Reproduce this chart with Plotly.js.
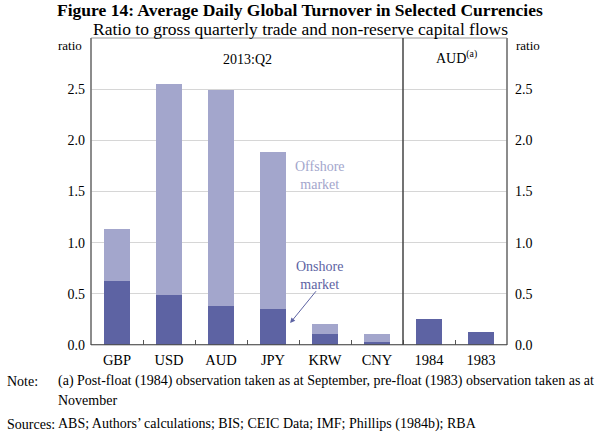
<!DOCTYPE html>
<html><head><meta charset="utf-8">
<script src="https://cdn.plot.ly/plotly-3.0.1.min.js"></script>
<style>body{margin:0;background:#fff}#c{width:600px;height:435px}</style>
</head><body><div id="c"></div>
<script>
var categories = ['GBP','USD','AUD','JPY','KRW','CNY','1984','1983'];
var onshore = [0.625, 0.49, 0.385, 0.35, 0.105, 0.027, 0.25, 0.124];
var offshore = [0.51, 2.06, 2.11, 1.54, 0.105, 0.078, null, null];
var yTicks = [0, 0.5, 1.0, 1.5, 2.0, 2.5];
var yTickText = ['0.0','0.5','1.0','1.5','2.0','2.5'];

var dark = '#5d63a3', light = '#a3a6cc';
var serif = 'Liberation Serif, Times New Roman, serif';

var traces = [
  {type:'bar', x:categories, y:onshore, marker:{color:dark}, width:0.5, name:'Onshore', hoverinfo:'y'},
  {type:'bar', x:categories, y:offshore, marker:{color:light}, width:0.5, name:'Offshore', hoverinfo:'y'},
  {type:'scatter', x:categories, y:onshore, yaxis:'y2', mode:'none', showlegend:false, hoverinfo:'skip'}
];

var fx = function(px){ return (px - 91) / 416; };

var layout = {
  width:600, height:435,
  margin:{l:91, r:93, t:38, b:90},
  barmode:'stack',
  showlegend:false,
  paper_bgcolor:'#fff', plot_bgcolor:'#fff',
  font:{family:serif, size:14, color:'#000'},
  xaxis:{type:'category', range:[-0.5,7.5], tickson:'boundaries', ticks:'inside', ticklen:5, tickcolor:'#555',
         showgrid:false, showline:false, tickfont:{size:14.5}, ticklabelstandoff:4},
  yaxis:{range:[0,3], tickvals:yTicks, ticktext:yTickText, showgrid:true, gridcolor:'#d6d6d6', gridwidth:1,
         zeroline:false, showline:false, ticks:'', tickfont:{size:14}, ticklabelstandoff:5},
  yaxis2:{range:[0,3], overlaying:'y', side:'right', tickvals:yTicks, ticktext:yTickText, showgrid:false,
          zeroline:false, showline:false, ticks:'', tickfont:{size:14}, ticklabelstandoff:7},
  shapes:[
    {type:'rect', xref:'paper', yref:'paper', x0:0, x1:1, y0:0, y1:1, line:{color:'#999', width:1}},
    {type:'line', xref:'paper', yref:'paper', x0:0, x1:0, y0:0, y1:1, line:{color:'#777', width:1.5}},
    {type:'line', xref:'paper', yref:'paper', x0:1, x1:1, y0:0, y1:1, line:{color:'#777', width:1.5}},
    {type:'line', xref:'x', yref:'paper', x0:5.5, x1:5.5, y0:0, y1:1, line:{color:'#444', width:1.5}},
    {type:'line', xref:'paper', yref:'y', x0:0, x1:1, y0:0, y1:0, line:{color:'#444', width:1.5}}
  ],
  annotations:[
    {text:'<b>Figure 14: Average Daily Global Turnover in Selected Currencies</b>', xref:'paper', yref:'paper',
     x:fx(300), y:1, yshift:28, showarrow:false, xanchor:'center', yanchor:'middle', font:{size:17.5}},
    {text:'Ratio to gross quarterly trade and non-reserve capital flows', xref:'paper', yref:'paper',
     x:fx(300), y:1, yshift:9, showarrow:false, xanchor:'center', yanchor:'middle', font:{size:17.5}},
    {text:'ratio', xref:'paper', yref:'paper', x:0, xshift:-7, y:1, yshift:-7, showarrow:false, xanchor:'right', yanchor:'middle', font:{size:13}},
    {text:'ratio', xref:'paper', yref:'paper', x:1, xshift:7, y:1, yshift:-7, showarrow:false, xanchor:'left', yanchor:'middle', font:{size:13}},
    {text:'2013:Q2', xref:'x', yref:'paper', x:2.5, y:1, yshift:-21, showarrow:false, xanchor:'center', yanchor:'middle', font:{size:14}},
    {text:'AUD<sup>(a)</sup>', xref:'x', yref:'paper', x:6.52, y:1, yshift:-19, showarrow:false, xanchor:'center', yanchor:'middle', font:{size:14}},
    {text:'Offshore<br>market', xref:'x', yref:'y', x:3.9, y:1.66, showarrow:false, xanchor:'center', yanchor:'middle', font:{size:14, color:light}},
    {text:'Onshore<br>market', xref:'x', yref:'y', x:3.9, y:0.68, showarrow:false, xanchor:'center', yanchor:'middle', font:{size:14, color:dark}},
    {text:'', xref:'x', yref:'y', x:3.33, y:0.215, ax:3.85, ay:0.54, axref:'x', ayref:'y', showarrow:true,
     arrowhead:2, arrowsize:1, arrowwidth:1, arrowcolor:dark},
    {text:'Note:', xref:'paper', yref:'paper', x:fx(5), xanchor:'left', y:0, yshift:-36, showarrow:false, yanchor:'middle', font:{size:14}},
    {text:'(a) Post-float (1984) observation taken as at September, pre-float (1983) observation taken as at', xref:'paper', yref:'paper',
     x:fx(56), xanchor:'left', y:0, yshift:-36, showarrow:false, yanchor:'middle', font:{size:14}},
    {text:'November', xref:'paper', yref:'paper', x:fx(56), xanchor:'left', y:0, yshift:-55, showarrow:false, yanchor:'middle', font:{size:14}},
    {text:'Sources:', xref:'paper', yref:'paper', x:fx(5), xanchor:'left', y:0, yshift:-79, showarrow:false, yanchor:'middle', font:{size:14}},
    {text:'ABS; Authors’ calculations; BIS; CEIC Data; IMF; Phillips (1984b); RBA', xref:'paper', yref:'paper',
     x:fx(56), xanchor:'left', y:0, yshift:-79, showarrow:false, yanchor:'middle', font:{size:14}}
  ]
};
Plotly.newPlot('c', traces, layout, {displayModeBar:false, staticPlot:true});
</script></body></html>
